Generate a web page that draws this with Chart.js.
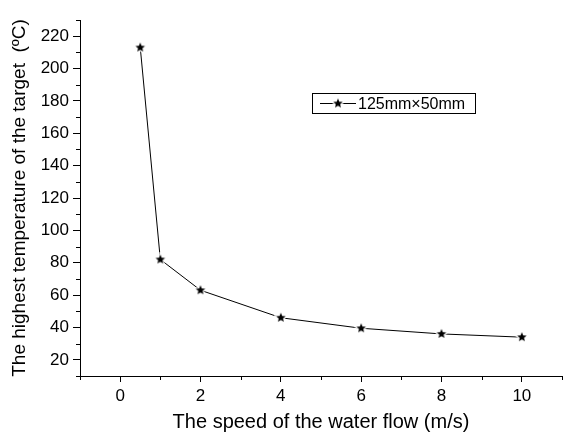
<!DOCTYPE html>
<html>
<head>
<meta charset="utf-8">
<script src="https://cdn.jsdelivr.net/npm/chart.js@4/dist/chart.umd.min.js"></script>
<style>
  html, body { margin: 0; padding: 0; background: #fff; }
  #wrap { width: 568px; height: 434px; }
</style>
</head>
<body>
<div id="wrap"><canvas id="tempChart" width="568" height="434"></canvas></div>
<script>
// data
const speeds = [0.5, 1, 2, 4, 6, 8, 10];
const maxTemps = [213, 82, 63, 46, 39.5, 36, 34];
const seriesName = '125mm\u00d750mm';
const xTickLabels = [0, 2, 4, 6, 8, 10];
const yTickLabels = [20, 40, 60, 80, 100, 120, 140, 160, 180, 200, 220];

// filled five point star with a thin white rim, used as the marker
function makeStar(r) {
  const c = document.createElement('canvas');
  const s = Math.ceil(r * 2 + 4);
  c.width = s; c.height = s;
  const ctx = c.getContext('2d');
  ctx.translate(s / 2, s / 2);
  ctx.beginPath();
  for (let i = 0; i < 10; i++) {
    const rad = i % 2 === 0 ? r : r * 0.45;
    const a = -Math.PI / 2 + i * Math.PI / 5;
    ctx.lineTo(rad * Math.cos(a), rad * Math.sin(a));
  }
  ctx.closePath();
  ctx.strokeStyle = '#fff';
  ctx.lineWidth = 2.5;
  ctx.stroke();
  ctx.fillStyle = '#000';
  ctx.fill();
  return c;
}
const starImg = makeStar(5);

const font = "'Liberation Sans', Arial, sans-serif";

// legend box inside the plot, like the original
const boxLegend = {
  id: 'boxLegend',
  afterDraw(chart) {
    const ctx = chart.ctx;
    const x0 = 312, y0 = 93, w = 163, h = 20;
    ctx.save();
    ctx.strokeStyle = '#000';
    ctx.lineWidth = 1;
    ctx.strokeRect(x0 + 0.5, y0 + 0.5, w, h);
    const my = y0 + h / 2 + 0.5;
    ctx.beginPath();
    ctx.moveTo(x0 + 8, my);
    ctx.lineTo(x0 + 44, my);
    ctx.stroke();
    ctx.drawImage(starImg, x0 + 26 - starImg.width / 2, my - starImg.height / 2);
    ctx.fillStyle = '#000';
    ctx.font = '16px ' + font;
    ctx.textBaseline = 'middle';
    ctx.fillText(seriesName, x0 + 46, my + 1);
    ctx.restore();
  }
};

// shorter minor ticks (the unlabelled ones)
const minorTicks = {
  id: 'minorTicks',
  afterDraw(chart) {
    const ctx = chart.ctx;
    const xs = chart.scales.x, ys = chart.scales.y;
    ctx.save();
    ctx.strokeStyle = '#000';
    ctx.lineWidth = 1;
    ctx.beginPath();
    xs.ticks.forEach(t => {
      if (xTickLabels.includes(t.value)) return;
      const px = Math.round(xs.getPixelForValue(t.value)) + 0.5;
      ctx.moveTo(px, xs.top);
      ctx.lineTo(px, xs.top + 4);
    });
    ys.ticks.forEach(t => {
      if (yTickLabels.includes(t.value)) return;
      const py = Math.round(ys.getPixelForValue(t.value)) + 0.5;
      ctx.moveTo(ys.right, py);
      ctx.lineTo(ys.right - 4, py);
    });
    ctx.stroke();
    ctx.restore();
  }
};

const majorColor = labels => c => (c.tick && labels.includes(c.tick.value)) ? '#000' : 'rgba(0,0,0,0)';

new Chart(document.getElementById('tempChart'), {
  type: 'line',
  data: {
    datasets: [{
      label: seriesName,
      data: speeds.map((v, i) => ({ x: v, y: maxTemps[i] })),
      borderColor: '#000',
      borderWidth: 1,
      pointStyle: starImg,
      tension: 0
    }]
  },
  options: {
    responsive: false,
    animation: false,
    layout: { padding: { left: 0, right: 6, top: 20, bottom: 0 } },
    plugins: { legend: { display: false }, tooltip: { enabled: false } },
    scales: {
      x: {
        type: 'linear',
        min: -1, max: 11,
        border: { color: '#000', width: 1 },
        grid: { drawOnChartArea: false, tickLength: 6, color: majorColor(xTickLabels) },
        ticks: {
          stepSize: 1,
          autoSkip: false,
          color: '#000',
          font: { family: font, size: 17 },
          padding: 4,
          maxRotation: 0,
          callback: v => xTickLabels.includes(v) ? String(v) : ''
        },
        title: {
          display: true,
          text: 'The speed of the water flow (m/s)',
          color: '#000',
          font: { family: font, size: 20 },
          padding: { top: 2, bottom: 0 }
        },
        afterFit: s => { s.height = 58; }
      },
      y: {
        min: 10, max: 230,
        border: { color: '#000', width: 1 },
        grid: { drawOnChartArea: false, tickLength: 7, color: majorColor(yTickLabels) },
        ticks: {
          stepSize: 10,
          autoSkip: false,
          color: '#000',
          font: { family: font, size: 17 },
          padding: 4,
          callback: v => yTickLabels.includes(v) ? String(v) : ''
        },
        title: {
          display: true,
          text: 'The highest temperature of the target  (\u00baC)',
          color: '#000',
          font: { family: font, size: 19 },
          padding: { top: 8, bottom: 0 }
        },
        afterFit: s => { s.width = 80; }
      }
    }
  },
  plugins: [boxLegend, minorTicks]
});
</script>
</body>
</html>
